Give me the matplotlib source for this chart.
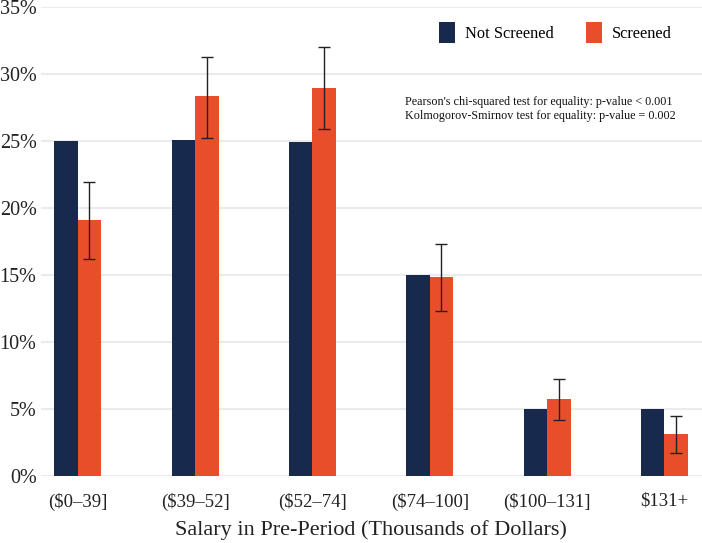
import matplotlib
matplotlib.use("Agg")
import matplotlib.pyplot as plt
import numpy as np
from matplotlib.patches import Patch

categories = ["($0–39]", "($39–52]", "($52–74]", "($74–100]", "($100–131]", "$131+"]
not_screened = [25.0, 25.05, 24.93, 15.03, 5.0, 5.0]
screened = [19.1, 28.35, 28.95, 14.85, 5.72, 3.11]
screened_lo = [16.2, 25.2, 25.87, 12.34, 4.18, 1.75]
screened_hi = [21.98, 31.3, 32.02, 17.29, 7.27, 4.48]
y_ticks = [0, 5, 10, 15, 20, 25, 30, 35]

navy = "#17294d"
orange = "#e84e29"

plt.rcParams["font.family"] = ["Liberation Serif", "DejaVu Serif"]

fig = plt.figure(figsize=(7.02, 5.43), dpi=100)
ax = fig.add_axes([0.058, 0.1234, 0.942, 0.8636])

x = np.arange(len(categories))
w = 0.2
ax.bar(x - w / 2, not_screened, width=w, color=navy, zorder=2)
ax.bar(x + w / 2, screened, width=w, color=orange, zorder=2)
s = np.array(screened)
yerr = np.vstack([s - np.array(screened_lo), np.array(screened_hi) - s])
ax.errorbar(x + w / 2, s, yerr=yerr, fmt="none", ecolor="#222222",
            elinewidth=1.0, capsize=4.5, capthick=1.0, zorder=3)

ax.set_xlim(-0.315, 5.32)
ax.set_ylim(0, 35)
ax.set_yticks(y_ticks)
ax.set_yticklabels([f"{t}%" for t in y_ticks], fontsize=14.5)
ax.set_xticks(x)
ax.set_xticklabels(categories, fontsize=13.5)
ax.tick_params(axis="both", length=0, colors="#222222")
ax.tick_params(axis="x", pad=12)
ax.tick_params(axis="y", pad=3)
ax.yaxis.grid(True, color="#ebebeb", linewidth=1.5, zorder=0)
ax.set_axisbelow(True)
for sp in ax.spines.values():
    sp.set_visible(False)
ax.set_xlabel("Salary in Pre-Period (Thousands of Dollars)", fontsize=16,
              labelpad=7, color="#222222")

handles = [Patch(facecolor=navy), Patch(facecolor=orange)]
ax.legend(handles, ["Not Screened", "Screened"], loc="upper right",
          bbox_to_anchor=(0.976, 1.0), ncol=2, frameon=False, fontsize=11.8,
          handlelength=0.95, handleheight=1.6, handletextpad=0.6,
          columnspacing=2.0)

ax.text(0.551, 0.81, "Pearson's chi-squared test for equality: p-value < 0.001\n"
        "Kolmogorov-Smirnov test for equality: p-value = 0.002",
        transform=ax.transAxes, fontsize=8.7, va="top", ha="left",
        linespacing=1.15, color="#111111")

fig.savefig("out.png", dpi=100, facecolor="white")
